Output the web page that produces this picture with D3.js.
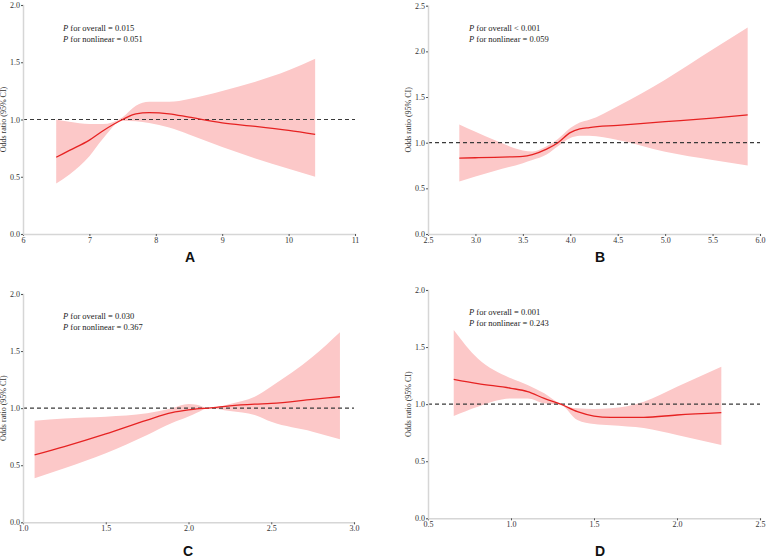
<!DOCTYPE html>
<html>
<head>
<meta charset="utf-8">
<script src="https://cdn.jsdelivr.net/npm/d3@7"></script>
<style>
  body { margin: 0; background: #fff; }
  svg text { font-family: "Liberation Serif", "DejaVu Serif", serif; }
</style>
</head>
<body>
<div id="chart"></div>
<script>
// ---- data ----
// panel A
const aX     = [6.5, 6.7, 7.0, 7.2, 7.5, 7.7, 7.9, 8.2, 8.5, 9.0, 9.5, 10.0, 10.4];
const aOR    = [0.67, 0.73, 0.82, 0.9, 1.0, 1.05, 1.06, 1.05, 1.02, 0.97, 0.94, 0.905, 0.87];
const aUpper = [1.0, 0.98, 0.96, 0.96, 1.02, 1.12, 1.155, 1.155, 1.18, 1.25, 1.33, 1.43, 1.53];
const aLower = [0.44, 0.52, 0.68, 0.83, 0.99, 0.985, 0.97, 0.93, 0.87, 0.76, 0.66, 0.57, 0.5];
// panel B
const bX     = [2.83, 3.0, 3.2, 3.5, 3.6, 3.75, 3.87, 4.0, 4.1, 4.2, 4.5, 5.0, 5.5, 5.87];
const bOR    = [0.83, 0.835, 0.84, 0.85, 0.87, 0.93, 1.0, 1.11, 1.15, 1.166, 1.19, 1.23, 1.27, 1.305];
const bUpper = [1.2, 1.12, 1.03, 0.915, 0.904, 0.96, 1.04, 1.16, 1.22, 1.25, 1.4, 1.69, 2.02, 2.26];
const bLower = [0.576, 0.63, 0.69, 0.776, 0.81, 0.87, 0.96, 1.05, 1.075, 1.075, 1.03, 0.9, 0.81, 0.75];
// panel C
const cX     = [1.07, 1.25, 1.5, 1.75, 1.9, 2.0, 2.05, 2.12, 2.25, 2.4, 2.5, 2.75, 2.915];
const cOR    = [0.59, 0.663, 0.774, 0.896, 0.96, 0.984, 0.993, 1.0, 1.02, 1.035, 1.042, 1.077, 1.1];
const cUpper = [0.89, 0.91, 0.925, 0.955, 1.0, 1.037, 1.03, 1.0, 1.037, 1.1, 1.19, 1.45, 1.665];
const cLower = [0.385, 0.473, 0.604, 0.765, 0.87, 0.926, 0.96, 1.0, 0.975, 0.94, 0.88, 0.794, 0.727];
// panel D
const dX     = [0.655, 0.8, 1.0, 1.1, 1.2, 1.3, 1.4, 1.5, 1.6, 1.8, 2.0, 2.267];
const dOR    = [1.218, 1.18, 1.139, 1.11, 1.05, 1.0, 0.934, 0.896, 0.885, 0.885, 0.905, 0.925];
const dUpper = [1.65, 1.4, 1.226, 1.168, 1.095, 1.0, 0.963, 0.958, 0.963, 1.022, 1.153, 1.328];
const dLower = [0.896, 0.978, 1.05, 1.05, 1.007, 0.993, 0.861, 0.826, 0.815, 0.79, 0.73, 0.642];

const pOverall   = ["= 0.015", "< 0.001", "= 0.030", "= 0.001"];
const pNonlinear = ["= 0.051", "= 0.059", "= 0.367", "= 0.243"];
const panelTags  = ["A", "B", "C", "D"];

// ---- layout ----
const W = 767, H = 558;
const svg = d3.select("#chart").append("svg")
    .attr("width", W)
    .attr("height", H);

const panels = [
  {x: aX, or: aOR, up: aUpper, lo: aLower, xd: [6, 11], xt: [6, 7, 8, 9, 10, 11], xf: d3.format("d"),
   yd: [0, 2], yt: [0, 0.5, 1, 1.5, 2], box: [23, 355, 5, 234], tag: [190, 262], note: [63, 31]},
  {x: bX, or: bOR, up: bUpper, lo: bLower, xd: [2.5, 6], xt: d3.range(2.5, 6.01, 0.5), xf: d3.format(".1f"),
   yd: [0, 2.5], yt: [0, 0.5, 1, 1.5, 2, 2.5], box: [428, 760, 5.7, 234], tag: [600, 262], note: [469, 31]},
  {x: cX, or: cOR, up: cUpper, lo: cLower, xd: [1, 3], xt: [1, 1.5, 2, 2.5, 3], xf: d3.format(".1f"),
   yd: [0, 2], yt: [0, 0.5, 1, 1.5, 2], box: [23, 354, 294, 522.3], tag: [188, 556], note: [63, 319]},
  {x: dX, or: dOR, up: dUpper, lo: dLower, xd: [0.5, 2.5], xt: [0.5, 1, 1.5, 2, 2.5], xf: d3.format(".1f"),
   yd: [0, 2], yt: [0, 0.5, 1, 1.5, 2], box: [428, 760, 290, 518.3], tag: [600, 556], note: [469, 315]}
];

panels.forEach((p, i) => {
  const [x0, x1, y0, y1] = p.box;
  const x = d3.scaleLinear().domain(p.xd).range([x0, x1]);
  const y = d3.scaleLinear().domain(p.yd).range([y1, y0]);
  const g = svg.append("g");

  const rows = p.x.map((v, k) => ({x: v, or: p.or[k], up: p.up[k], lo: p.lo[k]}));

  // confidence band
  g.append("path")
    .datum(rows)
    .attr("fill", "#fcc8c8")
    .attr("d", d3.area()
      .curve(d3.curveMonotoneX)
      .x(d => x(d.x))
      .y0(d => y(d.lo))
      .y1(d => y(d.up)));

  // reference line at OR = 1
  g.append("line")
    .attr("x1", x0).attr("x2", x1)
    .attr("y1", y(1)).attr("y2", y(1))
    .attr("stroke", "#3a3a3a")
    .attr("stroke-width", 1.2)
    .attr("stroke-dasharray", "4,3");

  // fitted curve
  g.append("path")
    .datum(rows)
    .attr("fill", "none")
    .attr("stroke", "#e62222")
    .attr("stroke-width", 1.3)
    .attr("d", d3.line()
      .curve(d3.curveMonotoneX)
      .x(d => x(d.x))
      .y(d => y(d.or)));

  // axes
  const xAxis = g.append("g")
    .attr("transform", "translate(0," + y1 + ")")
    .call(d3.axisBottom(x).tickValues(p.xt).tickFormat(p.xf).tickSize(2).tickPadding(1));
  const yAxis = g.append("g")
    .attr("transform", "translate(" + x0 + ",0)")
    .call(d3.axisLeft(y).tickValues(p.yt).tickFormat(d3.format(".1f")).tickSize(2).tickPadding(1));

  [xAxis, yAxis].forEach(ax => {
    ax.select(".domain").attr("stroke", "#d6d6d6").attr("stroke-width", 1.5);
    ax.selectAll(".tick line").attr("stroke", "#555");
    ax.selectAll(".tick text")
      .attr("fill", "#333")
      .style("font-family", "'Liberation Serif', serif")
      .style("font-size", "8px");
  });

  // y label
  g.append("text")
    .attr("transform", "translate(" + (x0 - 17) + "," + ((y0 + y1) / 2) + ") rotate(-90)")
    .attr("text-anchor", "middle")
    .attr("fill", "#333")
    .style("font-size", "8px")
    .text("Odds ratio (95% CI)");

  // p-value notes
  const note = g.append("text")
    .attr("x", p.note[0]).attr("y", p.note[1])
    .attr("fill", "#222")
    .style("font-size", "8.5px");
  note.append("tspan").style("font-style", "italic").text("P");
  note.append("tspan").text("  for overall " + pOverall[i]);
  const note2 = g.append("text")
    .attr("x", p.note[0]).attr("y", p.note[1] + 11)
    .attr("fill", "#222")
    .style("font-size", "8.5px");
  note2.append("tspan").style("font-style", "italic").text("P");
  note2.append("tspan").text("  for nonlinear " + pNonlinear[i]);

  // panel tag
  g.append("text")
    .attr("x", p.tag[0]).attr("y", p.tag[1])
    .attr("text-anchor", "middle")
    .style("font-family", "'Liberation Sans', Arial, sans-serif")
    .style("font-weight", "bold")
    .style("font-size", "14px")
    .attr("fill", "#111")
    .text(panelTags[i]);
});
</script>
</body>
</html>
